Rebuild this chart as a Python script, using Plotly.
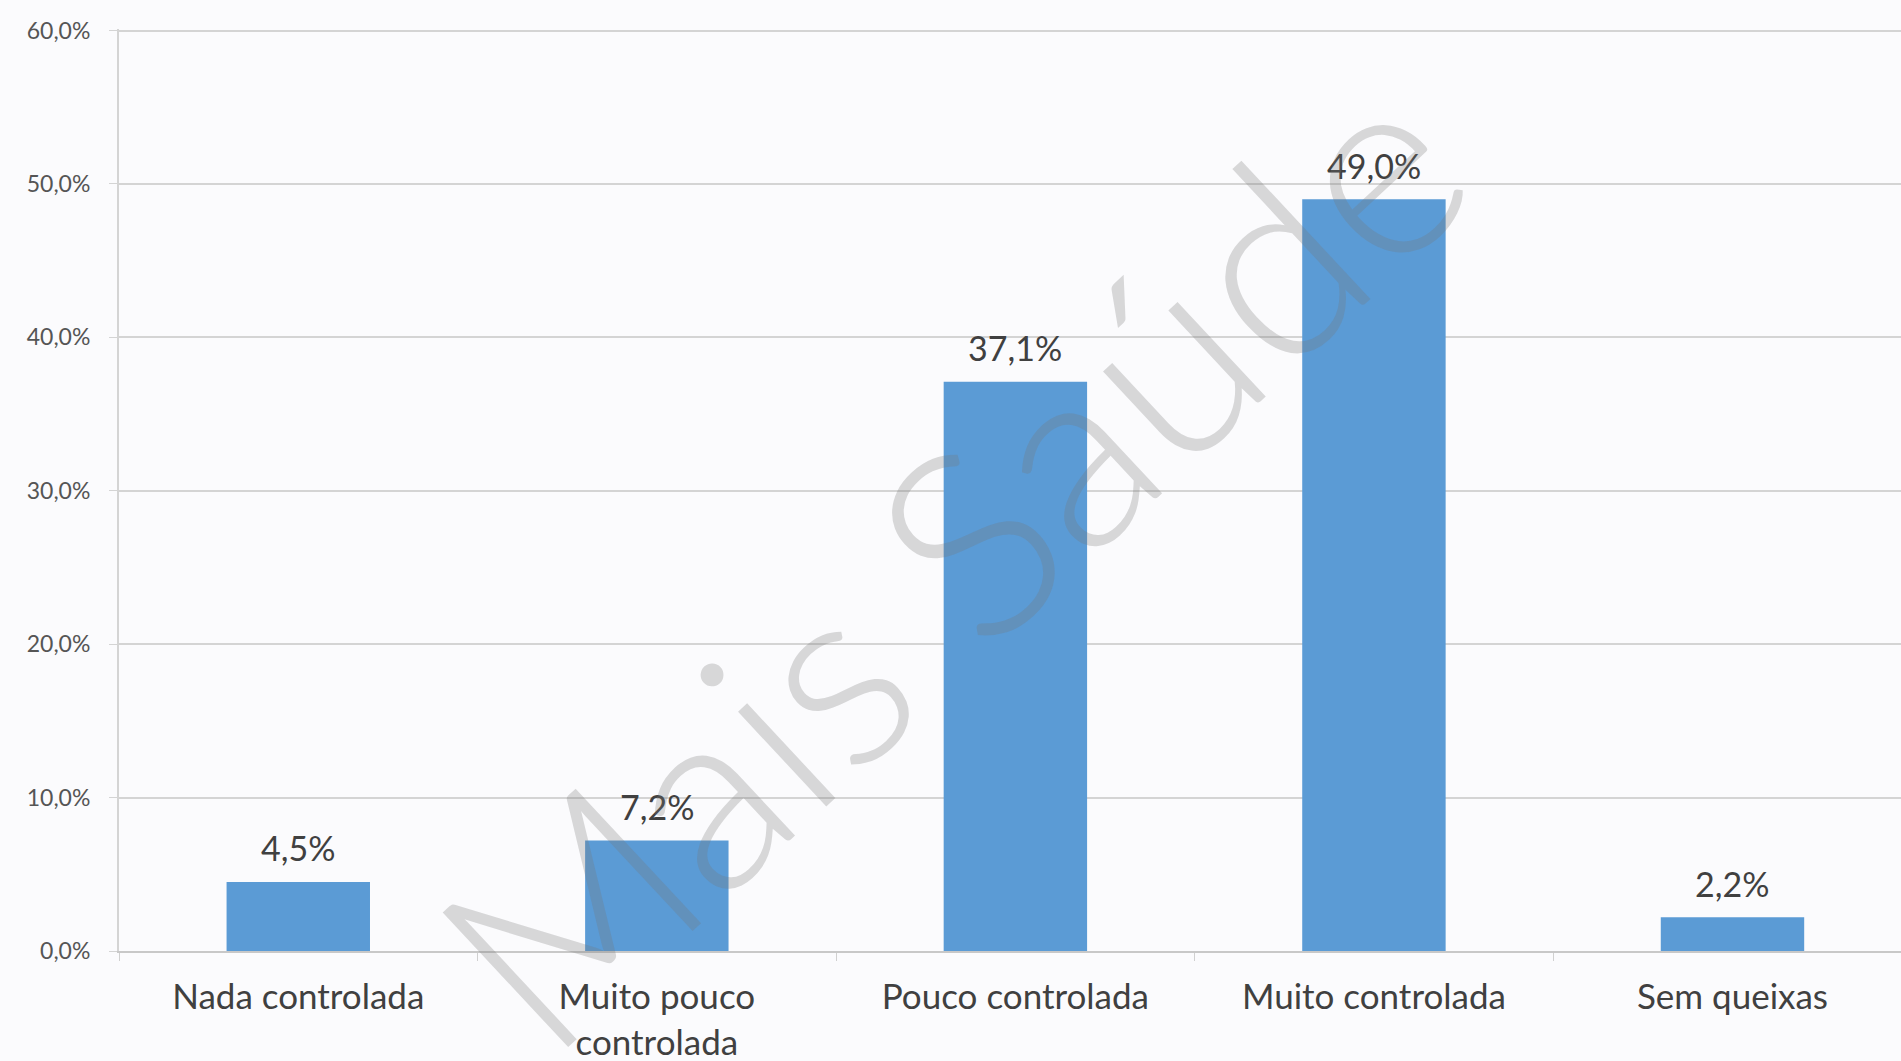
import plotly.graph_objects as go

categories = ["Nada controlada", "Muito pouco<br>controlada", "Pouco controlada", "Muito controlada", "Sem queixas"]
values = [4.5, 7.2, 37.1, 49.0, 2.2]
labels = ["4,5%", "7,2%", "37,1%", "49,0%", "2,2%"]
tick_vals = [0, 10, 20, 30, 40, 50, 60]
tick_text = ["0,0%", "10,0%", "20,0%", "30,0%", "40,0%", "50,0%", "60,0%"]

fig = go.Figure()
fig.add_trace(go.Bar(
    x=categories, y=values,
    marker=dict(color="#5b9bd5", line=dict(width=0)),
    cliponaxis=False, width=0.4,
))

for c, v, t in zip(categories, values, labels):
    fig.add_annotation(
        x=c, y=v, text=t, showarrow=False, yanchor="middle", yshift=34,
        font=dict(family="Lato", size=34, color="#404040"),
    )

fig.add_annotation(
    text="Mais Saúde", xref="paper", yref="paper", x=0.465, y=0.43,
    showarrow=False, textangle=-43,
    font=dict(family="Lato", size=260, color="rgba(120,120,120,0.27)", weight=300),
)

fig.update_layout(
    width=1901, height=1061,
    margin=dict(l=119, r=0, t=29, b=110),
    paper_bgcolor="#fbfbfd", plot_bgcolor="#fbfbfd",
    showlegend=False,
    xaxis=dict(
        type="category", range=[-0.5, 4.47],
        tickson="boundaries", ticks="outside", ticklen=8, tickcolor="#d0d0d0",
        ticklabelstandoff=14,
        showline=True, linecolor="#c8c8c8", linewidth=2,
        tickfont=dict(family="Lato", size=35, color="#404040"),
        showgrid=False,
    ),
    yaxis=dict(
        range=[0, 60.1], tickvals=tick_vals, ticktext=tick_text,
        ticks="outside", ticklen=8, tickcolor="#d4d4d4",
        ticklabelstandoff=14,
        showgrid=True, gridcolor="#d4d4d4", gridwidth=2,
        showline=True, linecolor="#d4d4d4", linewidth=2,
        zeroline=False,
        tickfont=dict(family="Lato", size=23, color="#555555"),
    ),
)

fig.write_html("out.html")
